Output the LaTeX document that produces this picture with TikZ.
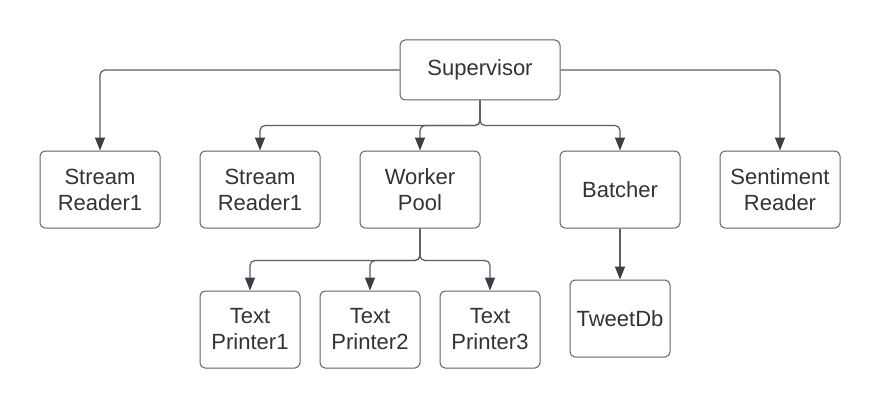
\documentclass[tikz,border=0pt]{standalone}
\usepackage{fontspec}
\setmainfont{Liberation Sans}
\usetikzlibrary{arrows.meta}
\definecolor{boxc}{HTML}{5F6368}
\definecolor{linec}{HTML}{5A5E66}
\definecolor{tipc}{HTML}{3A3E46}
\definecolor{txtc}{HTML}{333333}
\begin{document}
\begin{tikzpicture}[x=1pt,y=-1pt,
  box/.style={draw=boxc, line width=1pt, rounded corners=5pt, align=center,
    text=txtc, font=\fontsize{22}{26}\selectfont, inner sep=0pt},
  conn/.style={draw=linec, line width=1.2pt, rounded corners=5pt,
    -{Triangle[length=13pt,width=10pt,color=tipc]}}]
\useasboundingbox[fill=white] (0,0) rectangle (880,409);
\node[box, minimum width=160pt, minimum height=60pt] (sup) at (480,70) {Supervisor};
\node[box, minimum width=120pt, minimum height=77pt] (sr1) at (100,189.5) {Stream\\Reader1};
\node[box, minimum width=120pt, minimum height=77pt] (sr2) at (260,189.5) {Stream\\Reader1};
\node[box, minimum width=120pt, minimum height=77pt] (wp) at (420,189.5) {Worker\\Pool};
\node[box, minimum width=120pt, minimum height=77pt] (bat) at (620,189.5) {Batcher};
\node[box, minimum width=120pt, minimum height=77pt] (sent) at (780,189.5) {Sentiment\\Reader};
\node[box, minimum width=100pt, minimum height=77pt] (tp1) at (250,329.5) {Text\\Printer1};
\node[box, minimum width=100pt, minimum height=77pt] (tp2) at (370,329.5) {Text\\Printer2};
\node[box, minimum width=100pt, minimum height=77pt] (tp3) at (490,329.5) {Text\\Printer3};
\node[box, minimum width=100pt, minimum height=77pt] (tdb) at (620,318.5) {TweetDb};
\draw[conn] (sup.west) -| (sr1.north);
\draw[conn] (sup.east) -| (sent.north);
\draw[conn] (sup.south) |- ++(0,25) -| (sr2.north);
\draw[conn] (sup.south) |- ++(0,25) -| (bat.north);
\draw[conn] (sup.south) |- ++(0,25) -| (wp.north);
\draw[conn] (wp.south) |- ++(0,32) -| (tp1.north);
\draw[conn] (wp.south) |- ++(0,32) -| (tp3.north);
\draw[conn] (wp.south) |- ++(0,32) -| (tp2.north);
\draw[conn] (bat.south) -- (tdb.north);
\end{tikzpicture}
\end{document}
